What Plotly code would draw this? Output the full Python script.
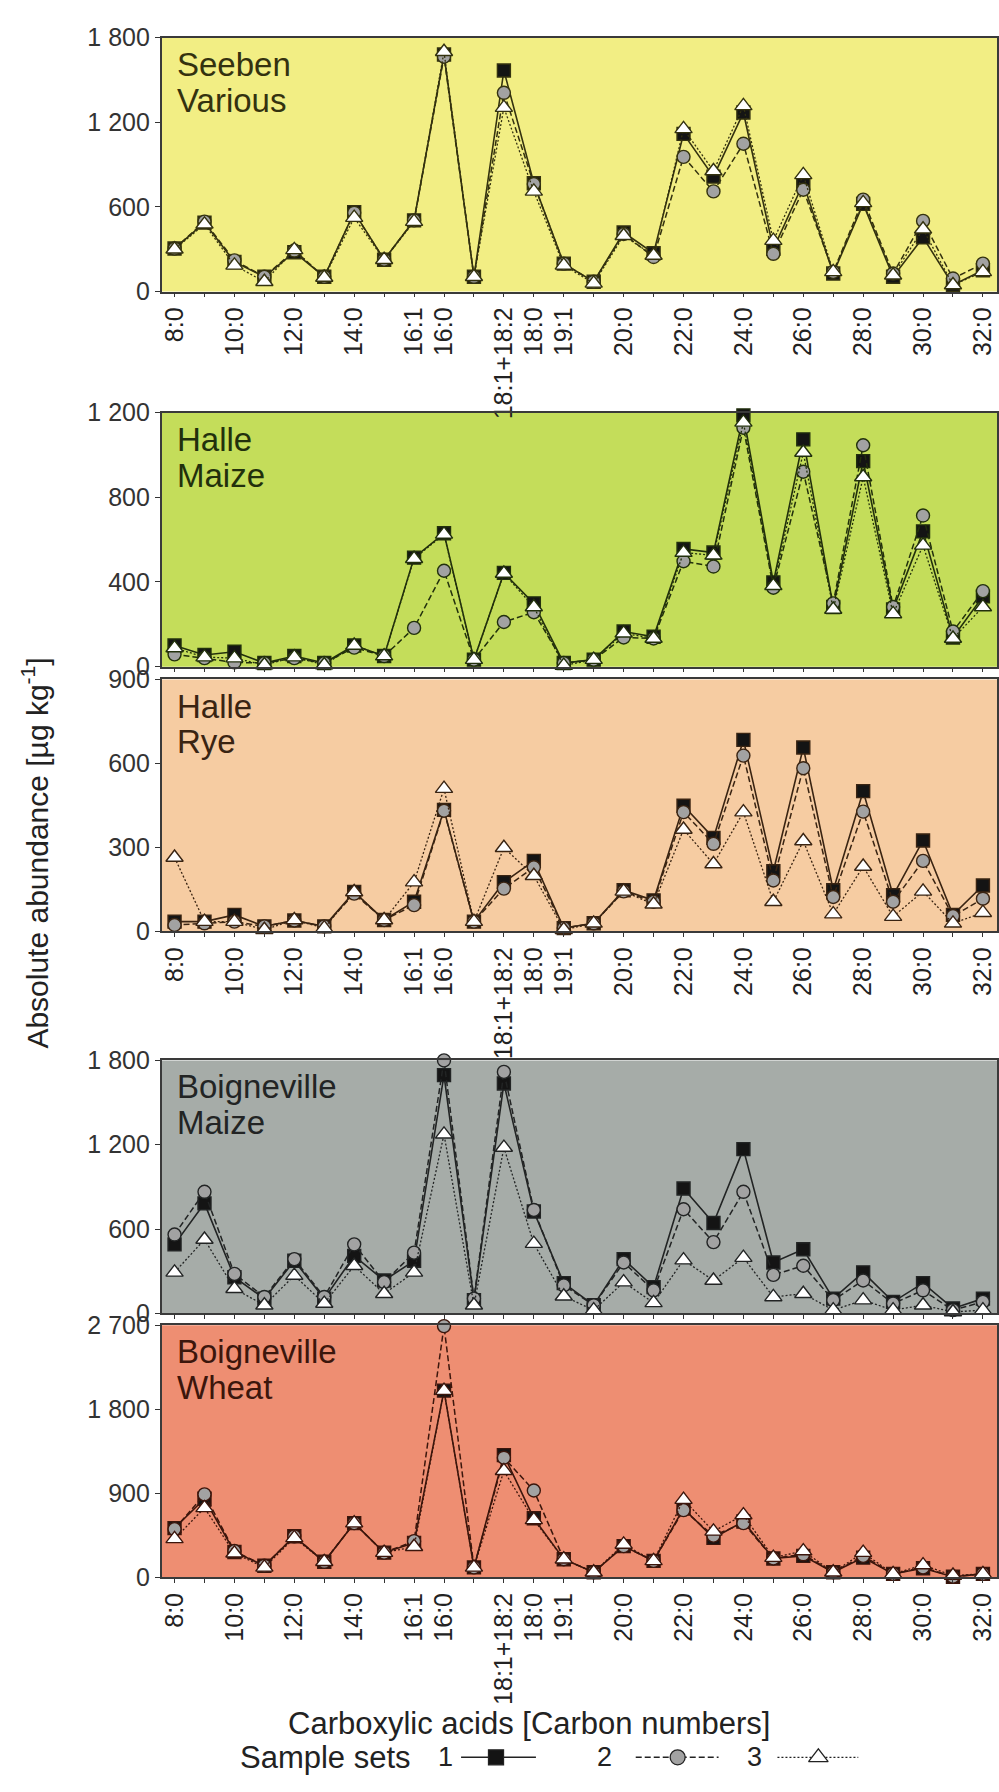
import plotly.graph_objects as go

# ---------------------------------------------------------------- data
acids = ["8:0", "9:0", "10:0", "11:0", "12:0", "13:0", "14:0", "15:0",
         "16:1", "16:0", "17:0", "18:1+18:2", "18:0", "19:1", "19:0",
         "20:0", "21:0", "22:0", "23:0", "24:0", "25:0", "26:0", "27:0",
         "28:0", "29:0", "30:0", "31:0", "32:0"]
acid_ticktext = ["8:0", "", "10:0", "", "12:0", "", "14:0", "",
                 "16:1", "16:0", "", "18:1+18:2", "18:0", "19:1", "",
                 "20:0", "", "22:0", "", "24:0", "", "26:0", "",
                 "28:0", "", "30:0", "", "32:0"]

site_names = [("Seeben", "Various"), ("Halle", "Maize"), ("Halle", "Rye"),
              ("Boigneville", "Maize"), ("Boigneville", "Wheat")]
y_max = [1800, 1200, 900, 1800, 2700]
y_tickvals = [[0, 600, 1200, 1800], [0, 400, 800, 1200], [0, 300, 600, 900],
              [0, 600, 1200, 1800], [0, 900, 1800, 2700]]
y_ticktext = [["0", "600", "1 200", "1 800"], ["0", "400", "800", "1 200"],
              ["0", "300", "600", "900"], ["0", "600", "1 200", "1 800"],
              ["0", "900", "1 800", "2 700"]]
# panels stacked directly on the next one carry tick marks only
show_acid_labels = [True, False, True, False, True]

sample_sets = ["1", "2", "3"]

# Seeben, various crops
seeben_1 = [305, 489, 210, 105, 279, 105, 563, 226, 505, 1680, 105, 1567, 768, 198,
            70, 419, 272, 1118, 815, 1269, 303, 768, 128, 622, 105, 384, 47, 151]
seeben_2 = [305, 496, 221, 105, 291, 105, 559, 226, 505, 1665, 105, 1409, 762, 198,
            70, 408, 245, 955, 710, 1048, 268, 722, 140, 652, 128, 501, 93, 198]
seeben_3 = [300, 477, 186, 70, 296, 100, 524, 226, 496, 1700, 105, 1304, 710, 186,
            58, 396, 256, 1153, 855, 1316, 361, 827, 140, 629, 116, 442, 47, 140]

# Halle, maize
halle_maize_1 = [100, 55, 70, 17, 50, 17, 100, 50, 515, 630, 33, 443, 299, 17,
                 33, 166, 141, 556, 539, 1187, 398, 1074, 282, 971, 270, 639, 138, 332]
halle_maize_2 = [58, 40, 20, 17, 40, 17, 90, 50, 183, 453, 33, 211, 257, 17,
                 33, 138, 133, 498, 473, 1129, 373, 921, 299, 1046, 282, 714, 166, 357]
halle_maize_3 = [88, 45, 40, 8, 45, 8, 100, 50, 510, 625, 33, 440, 282, 5,
                 33, 158, 133, 539, 526, 1154, 382, 1012, 270, 896, 249, 573, 133, 282]

# Halle, rye
halle_rye_1 = [35, 35, 59, 18, 39, 18, 141, 41, 106, 434, 35, 176, 252, 12,
               29, 147, 111, 449, 334, 684, 215, 657, 147, 501, 129, 325, 59, 164]
halle_rye_2 = [23, 29, 35, 18, 39, 18, 135, 41, 94, 431, 35, 153, 229, 12,
               29, 143, 106, 426, 313, 628, 182, 583, 123, 428, 106, 252, 55, 117]
halle_rye_3 = [264, 35, 35, 6, 41, 12, 141, 41, 176, 510, 35, 299, 199, 6,
               29, 143, 97, 364, 241, 426, 106, 323, 62, 232, 53, 143, 29, 67]

# Boigneville, maize
boig_maize_1 = [491, 783, 257, 105, 374, 105, 409, 234, 374, 1695, 94, 1636, 725, 215,
                58, 386, 187, 888, 643, 1169, 362, 456, 105, 292, 82, 215, 35, 105]
boig_maize_2 = [561, 865, 281, 117, 386, 117, 491, 222, 432, 1800, 105, 1718, 736, 199,
                58, 362, 164, 741, 507, 865, 274, 339, 94, 234, 70, 164, 23, 82]
boig_maize_3 = [292, 526, 175, 58, 269, 70, 339, 140, 292, 1274, 58, 1180, 496, 122,
                23, 222, 75, 379, 234, 397, 117, 140, 23, 94, 23, 58, 10, 23]

# Boigneville, wheat
boig_wheat_1 = [526, 841, 270, 123, 438, 165, 579, 263, 368, 1999, 105, 1308, 631, 193,
                53, 333, 175, 736, 421, 596, 200, 228, 53, 210, 35, 95, 5, 35]
boig_wheat_2 = [515, 887, 280, 123, 438, 165, 579, 263, 386, 2690, 105, 1280, 929, 193,
                53, 333, 175, 719, 445, 579, 200, 245, 53, 228, 35, 105, 5, 35]
boig_wheat_3 = [410, 743, 256, 105, 421, 165, 579, 263, 326, 1999, 105, 1140, 614, 193,
                53, 351, 175, 831, 491, 666, 210, 280, 53, 263, 35, 130, 18, 35]

panel_series = [
    [seeben_1, seeben_2, seeben_3],
    [halle_maize_1, halle_maize_2, halle_maize_3],
    [halle_rye_1, halle_rye_2, halle_rye_3],
    [boig_maize_1, boig_maize_2, boig_maize_3],
    [boig_wheat_1, boig_wheat_2, boig_wheat_3],
]

# ---------------------------------------------------------------- styling
W, H = 999, 1792
FONT = "Liberation Sans, Arial, Helvetica, sans-serif"
panel_bg = ["#F2EE84", "#C4DD5A", "#F6CCA2", "#A6ACA8", "#EE8E72"]
panel_ink = ["#34320f", "#22300c", "#3a2412", "#222424", "#3c160c"]
# vertical pixel extent (top, bottom) of each panel's plotting area
panel_px = [(24, 282), (405, 663), (676, 932), (1063, 1320), (1332, 1588)]
x_px = (160, 997)

series_style = [
    dict(symbol="square", size=13, fill="#141414", dash="solid", lw=1.6),
    dict(symbol="circle", size=13, fill="#A2A2A2", dash="6px,3px", lw=1.5),
    dict(symbol="triangle-up", size=15, fill="#FFFFFF", dash="2px,2px", lw=1.3),
]


def axis_ids(n):
    suffix = "" if n == 1 else str(n)
    return "x" + suffix, "y" + suffix, "xaxis" + suffix, "yaxis" + suffix


fig = go.Figure()
shapes, annotations = [], []

for p in range(5):
    xa, ya, xkey, ykey = axis_ids(p + 1)
    ink = panel_ink[p]
    for s in range(3):
        st = series_style[s]
        fig.add_trace(go.Scatter(
            x=acids, y=panel_series[p][s], xaxis=xa, yaxis=ya,
            mode="lines+markers", name=sample_sets[s], showlegend=False,
            cliponaxis=False,
            line=dict(color=ink, width=st["lw"], dash=st["dash"]),
            marker=dict(symbol=st["symbol"], size=st["size"], color=st["fill"],
                        line=dict(color=ink, width=1.4)),
        ))

    top, bot = panel_px[p]
    dom_y = [1 - bot / H, 1 - top / H]
    dom_x = [x_px[0] / W, x_px[1] / W]
    fig.update_layout(**{
        xkey: dict(
            domain=dom_x, anchor=ya, type="category",
            categoryorder="array", categoryarray=acids,
            range=[-0.43, 27.47], tickmode="array", tickvals=acids,
            ticktext=acid_ticktext, tickangle=-90, ticks="outside",
            showticklabels=show_acid_labels[p],
            ticklen=4, tickwidth=1.2, tickcolor="#333",
            showline=True, mirror=True, linecolor="#3a3a3a", linewidth=1.6,
            showgrid=False, zeroline=False,
            tickfont=dict(family=FONT, size=25, color="#222"),
        ),
        ykey: dict(
            domain=dom_y, anchor=xa, range=[0, y_max[p]],
            tickmode="array", tickvals=y_tickvals[p], ticktext=y_ticktext[p],
            ticks="outside", ticklen=5, tickwidth=1.2, tickcolor="#333",
            showline=True, mirror=True, linecolor="#3a3a3a", linewidth=1.6,
            showgrid=False, zeroline=False,
            tickfont=dict(family=FONT, size=25, color="#333"),
        ),
    })
    shapes.append(dict(type="rect", xref=f"{xa} domain", yref=f"{ya} domain",
                       x0=0, x1=1, y0=0, y1=1, layer="below",
                       fillcolor=panel_bg[p], line=dict(width=0)))
    ph = bot - top
    for k, txt in enumerate(site_names[p]):
        annotations.append(dict(
            text=txt, xref=f"{xa} domain", yref=f"{ya} domain",
            x=13 / (x_px[1] - x_px[0]), y=1 - (27 + 36.5 * k) / ph,
            xanchor="left", yanchor="middle", showarrow=False,
            font=dict(family=FONT, size=33, color=ink)))

# axis titles
annotations.append(dict(
    text="Absolute abundance [µg kg<sup>-1</sup>]", xref="paper", yref="paper",
    x=33 / W, y=1 - 852 / H, textangle=-90, showarrow=False,
    xanchor="center", yanchor="middle",
    font=dict(family=FONT, size=30, color="#222")))
annotations.append(dict(
    text="Carboxylic acids [Carbon numbers]", xref="paper", yref="paper",
    x=528 / W, y=1 - 1737 / H, showarrow=False,
    xanchor="center", yanchor="middle",
    font=dict(family=FONT, size=31, color="#222")))

# legend row: "Sample sets  1 -■-  2 --●--  3 ··△··"
legend_y = 1771
annotations.append(dict(
    text="Sample sets", xref="paper", yref="paper", x=412 / W, y=1 - legend_y / H,
    showarrow=False, xanchor="right", yanchor="middle",
    font=dict(family=FONT, size=31, color="#222")))
legend_keys = [  # (number x, key line start, marker centre, key line end) in px
    (444, 460, 495, 535),
    (604, 635, 677, 718),
    (754, 777, 818, 858),
]
fig.update_layout(
    xaxis6=dict(domain=[0, 1], range=[0, W], visible=False, fixedrange=True),
    yaxis6=dict(domain=[1 - (legend_y + 10) / H, 1 - (legend_y - 10) / H],
                range=[-1, 1], visible=False, anchor="x6", fixedrange=True),
)
for s, (xn, xa0, xm, xa1) in enumerate(legend_keys):
    st = series_style[s]
    annotations.append(dict(
        text=sample_sets[s], xref="paper", yref="paper", x=xn / W, y=1 - legend_y / H,
        showarrow=False, xanchor="center", yanchor="middle",
        font=dict(family=FONT, size=27, color="#222")))
    fig.add_trace(go.Scatter(
        x=[xa0, xa1], y=[0, 0], xaxis="x6", yaxis="y6", mode="lines",
        showlegend=False, hoverinfo="skip",
        line=dict(color="#222", width=st["lw"], dash=st["dash"])))
    fig.add_trace(go.Scatter(
        x=[xm], y=[0], xaxis="x6", yaxis="y6", mode="markers",
        showlegend=False, hoverinfo="skip", cliponaxis=False,
        marker=dict(symbol=st["symbol"], size=st["size"] + 2, color=st["fill"],
                    line=dict(color="#222", width=1.3))))

fig.update_layout(
    width=W, height=H, margin=dict(l=0, r=0, t=0, b=0),
    paper_bgcolor="#FFFFFF", plot_bgcolor="rgba(0,0,0,0)",
    shapes=shapes, annotations=annotations, showlegend=False,
    font=dict(family=FONT, color="#222"),
)

fig.write_html("out.html")
